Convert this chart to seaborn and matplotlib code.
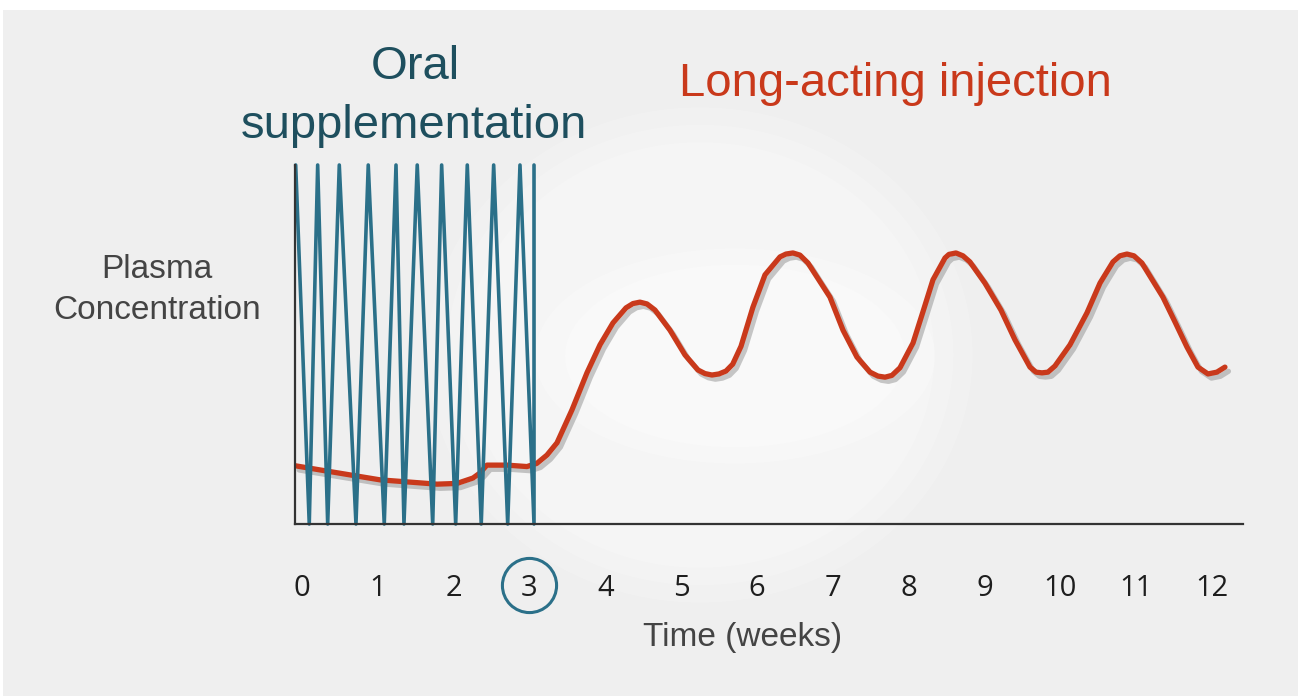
import numpy as np
import pandas as pd
import matplotlib
matplotlib.use("Agg")
import matplotlib.pyplot as plt
import matplotlib.patheffects as pe
from matplotlib.patches import Ellipse, Rectangle
import seaborn as sns

# data (x in weeks, y in arbitrary concentration units 0-100)
oral_weeks = [-0.083, 0.096, 0.207, 0.339, 0.492, 0.712, 0.874, 1.085, 1.240, 1.345,
              1.520, 1.724, 1.842, 2.027, 2.180, 2.364, 2.528, 2.713, 2.875, 3.060, 3.060]
oral_conc = [100, 0, 100, 0, 100, 0, 100, 0, 100, 0,
             100, 0, 100, 0, 100, 0, 100, 0, 100, 0, 100]

inj_weeks = [-0.083, 0.369, 1.029, 1.780, 2.044, 2.255, 2.347, 2.440, 2.703, 2.967,
             3.099, 3.231, 3.363, 3.561, 3.758, 3.930, 4.101, 4.273, 4.365, 4.457,
             4.550, 4.655, 4.853, 5.051, 5.222, 5.315, 5.407, 5.499, 5.592, 5.680,
             5.790, 5.947, 6.106, 6.304, 6.383, 6.475, 6.567, 6.673, 6.963, 7.135,
             7.319, 7.491, 7.596, 7.689, 7.781, 7.886, 8.058, 8.189, 8.321, 8.480,
             8.532, 8.625, 8.717, 8.809, 9.007, 9.218, 9.403, 9.601, 9.680, 9.759,
             9.838, 9.930, 10.128, 10.352, 10.524, 10.695, 10.787, 10.880, 10.972, 11.077,
             11.354, 11.513, 11.671, 11.816, 11.948, 12.066, 12.172]
inj_conc = [16.2, 14.6, 12.3, 11.1, 11.3, 12.8, 14.2, 16.4, 16.4, 16.0,
            16.9, 19.2, 22.6, 31.8, 42.1, 49.9, 56.0, 60.2, 61.4, 61.8,
            61.3, 59.6, 54.0, 47.1, 42.9, 41.9, 41.5, 41.8, 42.6, 44.5,
            49.5, 60.4, 69.4, 74.4, 75.2, 75.5, 74.9, 72.7, 63.2, 54.0,
            46.5, 42.3, 41.2, 40.9, 41.4, 43.5, 50.4, 59.1, 68.0, 74.1,
            75.1, 75.5, 74.7, 73.0, 67.1, 59.6, 51.3, 43.7, 42.3, 42.1,
            42.3, 44.0, 49.9, 58.8, 67.1, 73.0, 74.7, 75.2, 74.7, 72.7,
            63.2, 56.3, 49.3, 43.7, 41.8, 42.3, 43.7]

week_ticks = list(range(13))
switch_week = 3

oral_df = pd.DataFrame({"week": oral_weeks, "conc": oral_conc})
inj_df = pd.DataFrame({"week": inj_weeks, "conc": inj_conc})

sns.set_theme(style="white")
plt.rcParams['font.family'] = ['Liberation Sans', 'DejaVu Sans']

BLUE = "#2b7089"
RED = "#c9391b"
W, H = 1298, 696

fig = plt.figure(figsize=(W / 100, H / 100), dpi=100, facecolor="white")

# grey panel with a soft glow in the middle
fig.patches.append(Rectangle((3 / W, 0), 1, 1 - 10 / H, transform=fig.transFigure,
                             facecolor="#efefef", edgecolor="none", zorder=-10))
for k, a in [(1.0, 0.18), (0.93, 0.18), (0.86, 0.18)]:
    fig.patches.append(Ellipse((700 / W, 1 - 355 / H), k * 545 / W, k * 495 / H,
                               transform=fig.transFigure, facecolor="white",
                               edgecolor="none", alpha=a, zorder=-9))
for k, a in [(1.0, 0.25), (0.85, 0.25)]:
    fig.patches.append(Ellipse((735 / W, 1 - 356 / H), k * 400 / W, k * 215 / H,
                               transform=fig.transFigure, facecolor="white",
                               edgecolor="none", alpha=a, zorder=-8))

ax = fig.add_axes([295 / W, 1 - 524 / H, (1243 - 295) / W, (524 - 165) / H])
ax.patch.set_alpha(0)

sns.lineplot(data=inj_df, x="week", y="conc", ax=ax, sort=False, estimator=None,
             color=RED, linewidth=3.8, zorder=3, solid_joinstyle="round",
             solid_capstyle="round",
             path_effects=[pe.SimpleLineShadow(offset=(2.5, -3), shadow_color="#777777", alpha=0.4),
                           pe.Normal()])
sns.lineplot(data=oral_df, x="week", y="conc", ax=ax, sort=False, estimator=None,
             color=BLUE, linewidth=2.6, zorder=4, clip_on=False)

ax.set_xlim(-0.092, 12.41)
ax.set_ylim(0, 100)
ax.set_xticks(week_ticks)
ax.set_xticklabels([str(t) for t in week_ticks], fontsize=21, color="#1e1e1e",
                   family=['Open Sans', 'DejaVu Sans'])
ax.set_yticks([])
ax.tick_params(axis="x", length=0, pad=36)
ax.set_xlabel("")
ax.set_ylabel("")
for s in ["top", "right"]:
    ax.spines[s].set_visible(False)
for s in ["left", "bottom"]:
    ax.spines[s].set_color("#333333")
    ax.spines[s].set_linewidth(1.6)
    ax.spines[s].set_zorder(5)

# circle around the switch week tick label
ax.plot([switch_week], [-0.17], transform=ax.get_xaxis_transform(), marker="o",
        markersize=39, markerfacecolor="none", markeredgecolor=BLUE,
        markeredgewidth=2.2, clip_on=False)

fig.text(157 / W, 1 - 278 / H, "Plasma", ha="center", va="baseline",
         fontsize=24, color="#444444")
fig.text(157 / W, 1 - 319 / H, "Concentration", ha="center", va="baseline",
         fontsize=24, color="#444444")
fig.text(415 / W, 1 - 79 / H, "Oral", ha="center", va="baseline",
         fontsize=34, color="#1e4f5e")
fig.text(414 / W, 1 - 138 / H, "supplementation", ha="center", va="baseline",
         fontsize=34, color="#1e4f5e")
fig.text(895 / W, 1 - 96 / H, "Long-acting injection", ha="center", va="baseline",
         fontsize=34, color=RED)
fig.text(743 / W, 1 - 646 / H, "Time (weeks)", ha="center", va="baseline",
         fontsize=24, color="#444444")

fig.savefig("out.png", dpi=100, facecolor=fig.get_facecolor())
